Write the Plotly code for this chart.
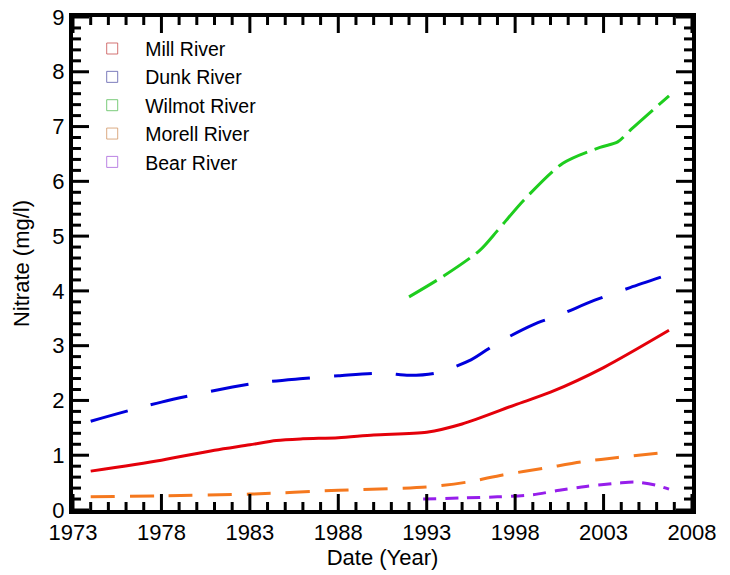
import plotly.graph_objects as go

# ---- data ----
mill_years = [1974, 1978, 1981, 1983, 1984.5, 1986, 1988, 1990, 1993, 1995, 1998, 2000, 2003, 2006.7]
mill_vals = [0.71, 0.91, 1.09, 1.19, 1.27, 1.30, 1.32, 1.37, 1.42, 1.57, 1.92, 2.15, 2.60, 3.28]

dunk_years = [1974, 1978, 1983, 1986, 1988, 1990.5, 1992, 1993.5, 1995.5, 1997, 1999, 2000.5, 2002.5, 2004.5, 2006.7]
dunk_vals = [1.62, 1.97, 2.30, 2.40, 2.45, 2.50, 2.46, 2.50, 2.74, 3.05, 3.38, 3.56, 3.83, 4.06, 4.30]

wilmot_years = [1992, 1994, 1996, 1997, 1998.5, 2000.7, 2002.8, 2003.8, 2004.5, 2006.7]
wilmot_vals = [3.89, 4.28, 4.74, 5.10, 5.66, 6.33, 6.62, 6.72, 6.93, 7.56]

morell_years = [1974, 1978, 1983, 1988, 1993, 1995.3, 1997.3, 1999.6, 2001.8, 2003.8, 2006.7]
morell_vals = [0.24, 0.26, 0.29, 0.36, 0.42, 0.51, 0.64, 0.76, 0.88, 0.96, 1.06]

bear_years = [1992.8, 1995, 1997, 1999, 2000.5, 2002, 2003.8, 2004.8, 2006, 2006.7]
bear_vals = [0.20, 0.22, 0.24, 0.28, 0.36, 0.43, 0.49, 0.51, 0.45, 0.38]

series_names = ["Mill River", "Dunk River", "Wilmot River", "Morell River", "Bear River"]

# axis ticks
x_major_ticks = [1973, 1978, 1983, 1988, 1993, 1998, 2003, 2008]
x_minor_ticks = [y for y in range(1973, 2009) if y not in x_major_ticks]
y_major_ticks = [0, 1, 2, 3, 4, 5, 6, 7, 8, 9]
y_minor_ticks = [round(i * 0.2, 1) for i in range(46) if i % 5 != 0]

# ---- styles ----
colors = ["rgb(228,0,10)", "rgb(0,0,220)", "rgb(30,205,30)", "rgb(245,120,30)", "rgb(150,30,235)"]
legend_colors = ["rgba(200,80,80,0.8)", "rgba(90,90,170,0.8)", "rgba(90,190,90,0.8)",
                 "rgba(210,150,100,0.8)", "rgba(170,100,220,0.8)"]
dashes = ["solid", "38px,24px", "32px,8px", "24px,15px", "13px,9px"]

W, H = 730, 575
ML, MR, MT, MB = 73, 38, 17, 65
PW, PH = W - ML - MR, H - MT - MB
MAJ_LEN, MIN_LEN = 16, 8

data = [(mill_years, mill_vals), (dunk_years, dunk_vals), (wilmot_years, wilmot_vals),
        (morell_years, morell_vals), (bear_years, bear_vals)]

fig = go.Figure()
for (xs, ys), name, c, d in zip(data, series_names, colors, dashes):
    fig.add_trace(go.Scatter(x=xs, y=ys, mode="lines", name=name, showlegend=False,
                             line=dict(color=c, width=3, dash=d, shape="spline", smoothing=0.8)))
for name, c in zip(series_names, legend_colors):
    fig.add_trace(go.Scatter(x=[None], y=[None], mode="markers", name=name,
                             marker=dict(symbol="square-open", size=11, color=c,
                                         line=dict(width=1, color=c))))

# inward ticks on all four sides
tick_line = dict(color="black", width=3)
for vals, ln in ((x_major_ticks, MAJ_LEN), (x_minor_ticks, MIN_LEN)):
    f = ln / PH
    for v in vals:
        fig.add_shape(type="line", xref="x", yref="paper", x0=v, x1=v, y0=0, y1=f,
                      line=tick_line, layer="above")
        fig.add_shape(type="line", xref="x", yref="paper", x0=v, x1=v, y0=1, y1=1 - f,
                      line=tick_line, layer="above")
for vals, ln in ((y_major_ticks, MAJ_LEN), (y_minor_ticks, MIN_LEN)):
    f = ln / PW
    for v in vals:
        fig.add_shape(type="line", xref="paper", yref="y", x0=0, x1=f, y0=v, y1=v,
                      line=tick_line, layer="above")
        fig.add_shape(type="line", xref="paper", yref="y", x0=1, x1=1 - f, y0=v, y1=v,
                      line=tick_line, layer="above")

font = "Arial, Liberation Sans, sans-serif"

fig.update_xaxes(
    range=[1973, 2008], tickmode="array", tickvals=x_major_ticks,
    ticktext=[str(v) for v in x_major_ticks], ticks="",
    showline=True, linecolor="black", linewidth=4, mirror=True,
    showgrid=False, zeroline=False, automargin=False, ticklabelstandoff=0,
    tickfont=dict(family=font, size=22, color="black"),
    title=dict(text="Date (Year)", font=dict(family=font, size=22, color="black"), standoff=4),
)
fig.update_yaxes(
    range=[0, 9], tickmode="array", tickvals=y_major_ticks,
    ticktext=[str(v) for v in y_major_ticks], ticks="",
    showline=True, linecolor="black", linewidth=4, mirror=True,
    showgrid=False, zeroline=False, automargin=False, ticklabelstandoff=0,
    tickfont=dict(family=font, size=22, color="black"),
    title=dict(text="Nitrate (mg/l)", font=dict(family=font, size=22, color="black"), standoff=18),
)

fig.update_layout(
    width=W, height=H,
    margin=dict(l=ML, r=MR, t=MT, b=MB),
    paper_bgcolor="white", plot_bgcolor="white",
    showlegend=True,
    legend=dict(x=0.01, y=0.975, xanchor="left", yanchor="top",
                font=dict(family=font, size=19.5, color="black"),
                bgcolor="rgba(0,0,0,0)", tracegroupgap=0, itemwidth=56),
)

fig.write_html("out.html", config={"displayModeBar": False},
               post_script="document.body.style.margin='0px';document.body.style.overflow='hidden';")
